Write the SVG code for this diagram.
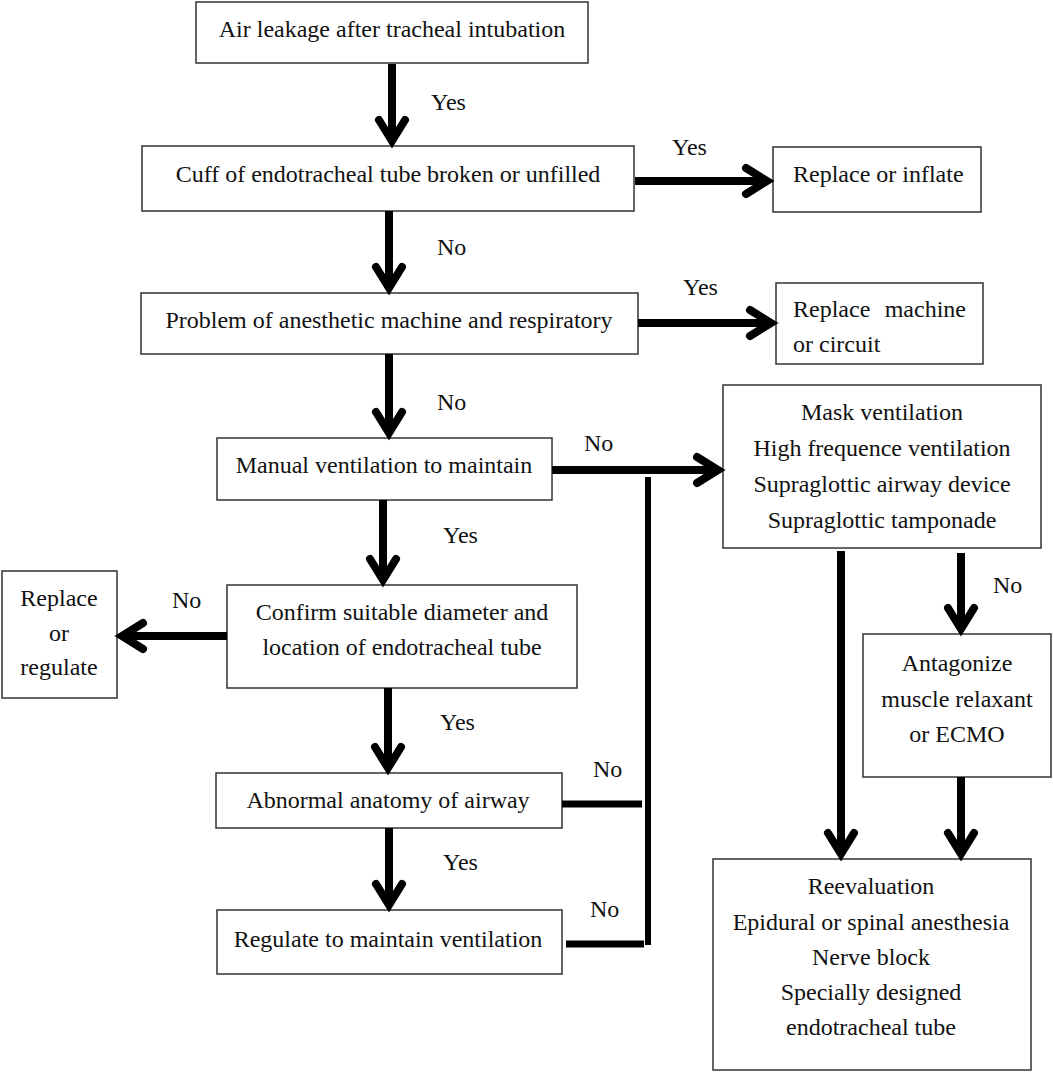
<svg xmlns="http://www.w3.org/2000/svg" width="1053" height="1072" viewBox="0 0 1053 1072">
<style>
.box{fill:#fff;stroke:#333;stroke-width:1.5}
text{font-family:"Liberation Serif","Times New Roman",serif;font-size:24px;fill:#111}
.c{text-anchor:middle}
.shaft{stroke:#000;stroke-width:8;fill:none}
.head{stroke:#000;stroke-width:8;fill:none;stroke-linecap:round;stroke-linejoin:miter}
.bar{stroke:#000;stroke-width:7;fill:none}
</style>
<rect width="1053" height="1072" fill="#fff"/>
<g id="n1"><rect class="box" x="196" y="2" width="392" height="61"/><text class="c" x="392" y="37">Air leakage after tracheal intubation</text></g>
<g id="n2"><rect class="box" x="142" y="146" width="492" height="65"/><text class="c" x="388" y="182">Cuff of endotracheal tube broken or unfilled</text></g>
<g id="n3"><rect class="box" x="773" y="147" width="208" height="65"/><text x="793" y="182">Replace or inflate</text></g>
<g id="n4"><rect class="box" x="141" y="293" width="497" height="61"/><text class="c" x="389" y="328">Problem of anesthetic machine and respiratory</text></g>
<g id="n5"><rect class="box" x="776" y="283" width="207" height="81"/><text y="317"><tspan x="793">Replace </tspan><tspan x="966" text-anchor="end">machine</tspan></text><text x="793" y="352">or circuit</text></g>
<g id="n6"><rect class="box" x="217" y="438" width="335" height="62"/><text class="c" x="384" y="473">Manual ventilation to maintain</text></g>
<g id="n7"><rect class="box" x="723" y="385" width="318" height="163"/><text class="c" x="882" y="420">Mask ventilation</text><text class="c" x="882" y="456">High frequence ventilation</text><text class="c" x="882" y="492">Supraglottic airway device</text><text class="c" x="882" y="528">Supraglottic tamponade</text></g>
<g id="n8"><rect class="box" x="2" y="571" width="115" height="127"/><text class="c" x="59" y="606">Replace</text><text class="c" x="59" y="641">or</text><text class="c" x="59" y="675">regulate</text></g>
<g id="n9"><rect class="box" x="227" y="585" width="350" height="103"/><text class="c" x="402" y="620">Confirm suitable diameter and</text><text class="c" x="402" y="655">location of endotracheal tube</text></g>
<g id="n10"><rect class="box" x="863" y="634" width="188" height="143"/><text class="c" x="957" y="671">Antagonize</text><text class="c" x="957" y="707">muscle relaxant</text><text class="c" x="957" y="742">or ECMO</text></g>
<g id="n11"><rect class="box" x="216" y="773" width="346" height="55"/><text class="c" x="388" y="808">Abnormal anatomy of airway</text></g>
<g id="n12"><rect class="box" x="217" y="910" width="345" height="64"/><text class="c" x="388" y="947">Regulate to maintain ventilation</text></g>
<g id="n13"><rect class="box" x="713" y="859" width="318" height="211"/><text class="c" x="871" y="894">Reevaluation</text><text class="c" x="871" y="930">Epidural or spinal anesthesia</text><text class="c" x="871" y="965">Nerve block</text><text class="c" x="871" y="1000">Specially designed</text><text class="c" x="871" y="1035">endotracheal tube</text></g>
<g id="connectors">
<path class="shaft" d="M392 64V140M389 211V287M389 354V432M383 500V579M388 688V767M389 828V904M635 181H766M638 323H770M552 470H717M227 636H123M841 551V853M961 553V628M961 777V853"/>
<path class="head" d="M379 120L392 141L405 120M376 267L389 288L402 267M376 412L389 433L402 412M370 559L383 580L396 559M375 747L388 768L401 747M376 884L389 905L402 884M746 168L767 181L746 194M750 310L771 323L750 336M697 457L718 470L697 483M143 623L122 636L143 649M828 833L841 854L854 833M948 608L961 629L974 608M948 833L961 854L974 833"/>
<path class="bar" d="M562 804H642M566 944H644"/>
<path class="bar" style="stroke-width:6" d="M648 477V945"/>
<text x="431" y="110">Yes</text>
<text x="672" y="155">Yes</text>
<text x="437" y="255">No</text>
<text x="683" y="295">Yes</text>
<text x="437" y="410">No</text>
<text x="584" y="451">No</text>
<text x="443" y="543">Yes</text>
<text x="172" y="608">No</text>
<text x="993" y="593">No</text>
<text x="440" y="730">Yes</text>
<text x="593" y="777">No</text>
<text x="443" y="870">Yes</text>
<text x="590" y="917">No</text>
</g>
</svg>
